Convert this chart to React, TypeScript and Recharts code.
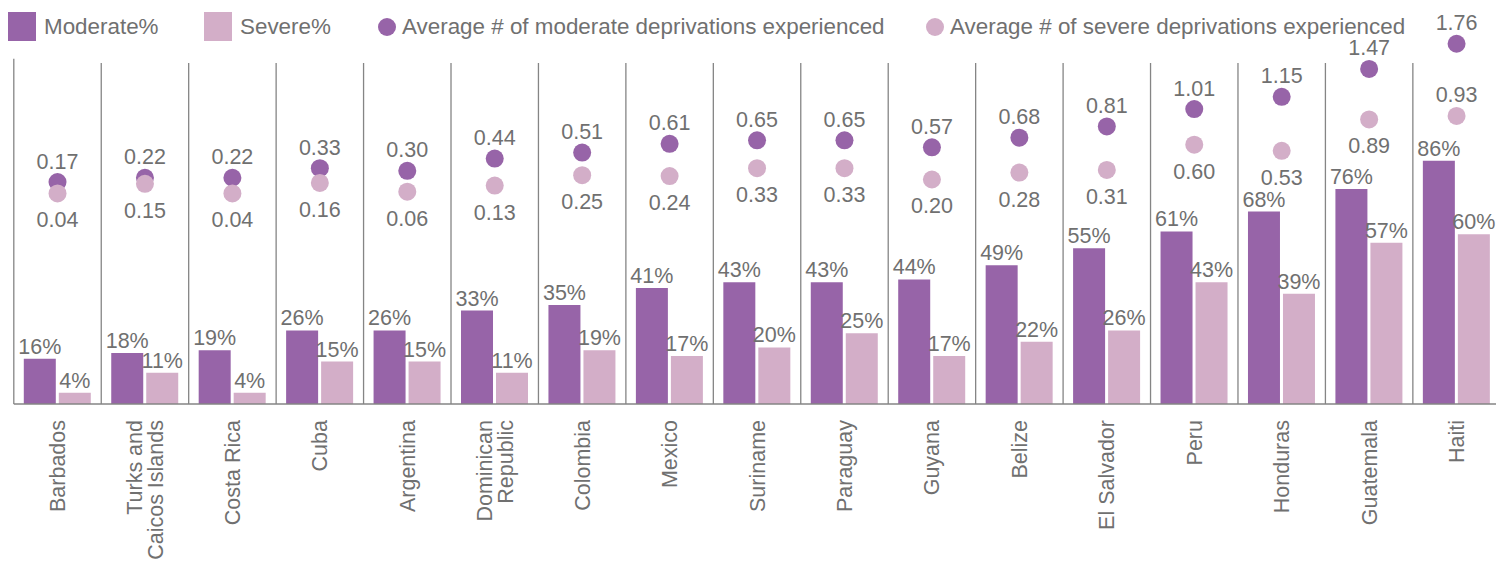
import React from 'react';
import { ComposedChart, Bar, Scatter, XAxis, YAxis, Legend, LabelList, ReferenceLine } from 'recharts';

const countries = [
  'Barbados', 'Turks and\nCaicos Islands', 'Costa Rica', 'Cuba', 'Argentina', 'Dominican\nRepublic',
  'Colombia', 'Mexico', 'Suriname', 'Paraguay', 'Guyana', 'Belize', 'El Salvador', 'Peru',
  'Honduras', 'Guatemala', 'Haiti',
];
const moderatePct = [16, 18, 19, 26, 26, 33, 35, 41, 43, 43, 44, 49, 55, 61, 68, 76, 86];
const severePct = [4, 11, 4, 15, 15, 11, 19, 17, 20, 25, 17, 22, 26, 43, 39, 57, 60];
const moderateAvg = [0.17, 0.22, 0.22, 0.33, 0.3, 0.44, 0.51, 0.61, 0.65, 0.65, 0.57, 0.68, 0.81, 1.01, 1.15, 1.47, 1.76];
const severeAvg = [0.04, 0.15, 0.04, 0.16, 0.06, 0.13, 0.25, 0.24, 0.33, 0.33, 0.2, 0.28, 0.31, 0.6, 0.53, 0.89, 0.93];
const seriesNames = [
  'Moderate%',
  'Severe%',
  'Average # of moderate deprivations experienced',
  'Average # of severe deprivations experienced',
];
// severe average label sits above the dot for these
const severeLabelAbove = ['Haiti'];

const COLORS = {
  moderate: '#9764A8',
  severe: '#D3AEC8',
  text: '#707070',
  line: '#858585',
};
const FONT = '"Liberation Sans", Arial, sans-serif';

const data = countries.map((country, i) => ({
  country,
  moderate: moderatePct[i],
  severe: severePct[i],
  moderateAvg: moderateAvg[i],
  severeAvg: severeAvg[i],
}));

const CountryTick = ({ x, y, payload }: any) => {
  const lines = String(payload.value).split('\n');
  const fs = 21.5;
  const lh = 21;
  const ty = y + 8;
  return (
    <text
      transform={`rotate(-90, ${x}, ${ty})`}
      x={x}
      y={ty}
      textAnchor="end"
      fill={COLORS.text}
      fontSize={fs}
      fontFamily={FONT}
    >
      {lines.map((l, i) => (
        <tspan key={i} x={x} dy={i === 0 ? 0.35 * fs - ((lines.length - 1) * lh) / 2 : lh}>
          {l}
        </tspan>
      ))}
    </text>
  );
};

const dotShape = (color: string, key: 'moderateAvg' | 'severeAvg') => (props: any) => {
  const { cx, cy, payload } = props;
  const above = key === 'moderateAvg' || severeLabelAbove.includes(payload.country);
  return (
    <g>
      <circle cx={cx} cy={cy} r={9} fill={color} />
      <text
        x={cx}
        y={above ? cy - 13.5 : cy + 34}
        textAnchor="middle"
        fill={COLORS.text}
        fontSize={21.5}
        fontFamily={FONT}
      >
        {payload[key].toFixed(2)}
      </text>
    </g>
  );
};

const legendLeft = [0, 196, 370, 918];

const renderLegend = ({ payload }: any) => {
  const items = [...(payload || [])].sort(
    (a: any, b: any) => seriesNames.indexOf(a.value) - seriesNames.indexOf(b.value)
  );
  return (
    <div style={{ position: 'relative', height: 30, fontFamily: FONT }}>
      {items.map((entry: any, i: number) => (
        <div
          key={entry.value}
          style={{
            position: 'absolute',
            left: legendLeft[i],
            top: 0,
            height: 29,
            display: 'flex',
            alignItems: 'center',
            whiteSpace: 'nowrap',
          }}
        >
          {entry.type === 'rect' ? (
            <span style={{ display: 'inline-block', width: 28, height: 29, background: entry.color, marginRight: 8 }} />
          ) : (
            <span style={{ display: 'inline-block', width: 18, height: 18, borderRadius: 9, background: entry.color, marginRight: 6 }} />
          )}
          <span style={{ fontSize: 22.4, color: COLORS.text }}>{entry.value}</span>
        </div>
      ))}
    </div>
  );
};

export default function App() {
  return (
    <div style={{ width: 1496, height: 557 }}>
      <ComposedChart
        width={1496}
        height={557}
        data={data}
        margin={{ top: 14, right: 3.7, left: 5.8, bottom: 131 }}
        barGap={3}
      >
        <XAxis
          dataKey="country"
          height={30}
          interval={0}
          tickLine={false}
          axisLine={{ stroke: COLORS.line, strokeWidth: 1.5 }}
          tick={<CountryTick />}
        />
        <YAxis yAxisId="pct" domain={[0, 135]} hide />
        <YAxis yAxisId="avg" orientation="right" domain={[-2.38, 2.01]} hide />
        <Legend
          layout="horizontal"
          verticalAlign="middle"
          align="center"
          wrapperStyle={{ top: 4, left: 0, width: 1496 }}
          content={renderLegend}
        />
        <ReferenceLine
          yAxisId="pct"
          segment={[{ x: countries[0], y: 0 }, { x: countries[0], y: 122 }]}
          position="start"
          stroke={COLORS.line}
          strokeWidth={1.3}
          ifOverflow="visible"
        />
        {countries.map((c) => (
          <ReferenceLine
            key={c}
            yAxisId="pct"
            segment={[{ x: c, y: 0 }, { x: c, y: 120.5 }]}
            position="end"
            stroke={COLORS.line}
            strokeWidth={1.3}
            ifOverflow="visible"
          />
        ))}
        <Bar yAxisId="pct" dataKey="moderate" name={seriesNames[0]} fill={COLORS.moderate} barSize={32} isAnimationActive={false}>
          <LabelList
            dataKey="moderate"
            position="top"
            formatter={(v: any) => `${v}%`}
            fill={COLORS.text}
            fontSize={21.5}
            fontFamily={FONT}
          />
        </Bar>
        <Bar yAxisId="pct" dataKey="severe" name={seriesNames[1]} fill={COLORS.severe} barSize={32} isAnimationActive={false}>
          <LabelList
            dataKey="severe"
            position="top"
            formatter={(v: any) => `${v}%`}
            fill={COLORS.text}
            fontSize={21.5}
            fontFamily={FONT}
          />
        </Bar>
        <Scatter
          yAxisId="avg"
          dataKey="moderateAvg"
          name={seriesNames[2]}
          fill={COLORS.moderate}
          legendType="circle"
          shape={dotShape(COLORS.moderate, 'moderateAvg')}
          isAnimationActive={false}
        />
        <Scatter
          yAxisId="avg"
          dataKey="severeAvg"
          name={seriesNames[3]}
          fill={COLORS.severe}
          legendType="circle"
          shape={dotShape(COLORS.severe, 'severeAvg')}
          isAnimationActive={false}
        />
      </ComposedChart>
    </div>
  );
}
